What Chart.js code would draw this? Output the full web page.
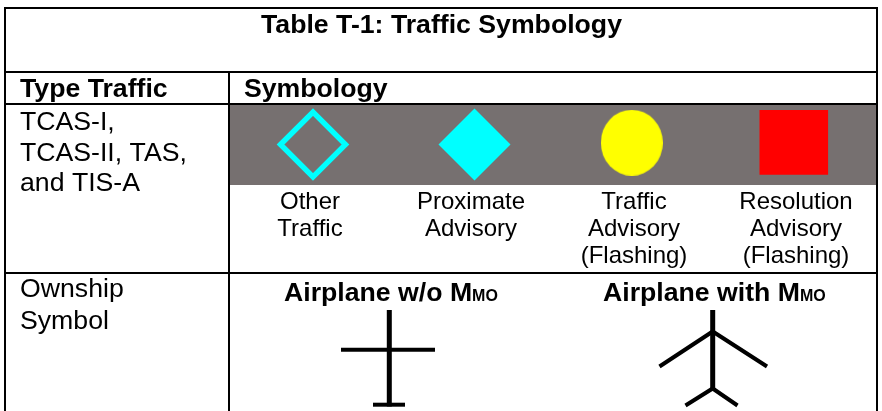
<!DOCTYPE html>
<html>
<head>
<meta charset="utf-8">
<style>
  html, body { margin: 0; padding: 0; background: #fff; }
  #wrap { width: 882px; height: 411px; }
</style>
<script src="https://cdn.jsdelivr.net/npm/chart.js@4/dist/chart.umd.js"></script>
</head>
<body>
<div id="wrap"><canvas id="symbologyChart" width="882" height="411"></canvas></div>
<script>
// table values, in picture units
const tableRuleX = [5, 877, null, 5, 877, null, 5, 877, null, 5, 877, null, 5, 5, null, 877, 877, null, 229, 229];
const tableRuleY = [8, 8, null, 72, 72, null, 104, 104, null, 273, 273, null, 7, 411, null, 7, 411, null, 72, 411];

const bandX = [230, 876];
const bandTop = [105, 105];
const bandBottom = 185;

const outlineDiamond = [{ x: 313, y: 144.5 }];
const solidDiamond = [{ x: 474.5, y: 144.5 }];
const trafficDot = [{ x: 631.8, y: 142.7 }];
const raSquareX = [759.3, 828.3];
const raSquareTop = [110, 110];
const raSquareBottom = 174.8;

const plainBodyX = [389.3, 389.3];
const plainBodyY = [310, 406.5];
const plainWingX = [341, 435];
const plainWingY = [349.8, 349.8];
const plainTailX = [373, 405];
const plainTailY = [404.7, 404.7];

const mmoBodyX = [712.7, 712.7];
const mmoBodyY = [310, 390];
const mmoWingX = [659.5, 712.7, 767];
const mmoWingY = [366.5, 331.5, 366.5];
const mmoTailX = [685.5, 712.7, 737.5];
const mmoTailY = [405.5, 388.5, 405.5];

const titleText = ['Table T-1: Traffic Symbology'];
const headLabels = ['Type Traffic', 'Symbology'];
const headX = [20, 244];
const typeLabels = ['TCAS-I,', 'TCAS-II, TAS,', 'and TIS-A', 'Ownship', 'Symbol'];
const typeY = [130, 161, 191, 297, 329];
const symbolLabels = [
    ['Other', 'Traffic'],
    ['Proximate', 'Advisory'],
    ['Traffic', 'Advisory', '(Flashing)'],
    ['Resolution', 'Advisory', '(Flashing)']
];
const symbolX = [310, 471, 634, 796];
const symbolLineY = [209, 236, 263];
const airplaneLabels = ['Airplane w/o ', 'Airplane with '];
const airplaneX = [284, 603];
const airplaneSub = ['M', 'MO'];

// ellipse marker, the yellow dot is a bit taller than wide
function ellipseMarker(w, h, color) {
    const c = document.createElement('canvas');
    c.width = w;
    c.height = h;
    const g = c.getContext('2d');
    g.fillStyle = color;
    g.beginPath();
    g.ellipse(w / 2, h / 2, w / 2, h / 2, 0, 0, Math.PI * 2);
    g.fill();
    return c;
}

function pairs(xs, ys) {
    return xs.map((x, i) => (x === null ? { x: null, y: null } : { x: x, y: ys[i] }));
}

function strokeSet(xs, ys, width) {
    return {
        data: pairs(xs, ys),
        showLine: true,
        borderColor: '#000',
        borderWidth: width,
        pointRadius: 0,
        fill: false,
        spanGaps: false
    };
}

function fillSet(xs, ys, bottom, color) {
    return {
        data: pairs(xs, ys),
        showLine: true,
        borderWidth: 0,
        borderColor: color,
        backgroundColor: color,
        pointRadius: 0,
        fill: { value: bottom }
    };
}

const textPlugin = {
    id: 'tableText',
    afterDatasetsDraw(chart) {
        const ctx = chart.ctx;
        const px = v => chart.scales.x.getPixelForValue(v);
        const py = v => chart.scales.y.getPixelForValue(v);
        const sans = '"Liberation Sans", Arial, sans-serif';
        ctx.save();
        ctx.fillStyle = '#000';
        ctx.textBaseline = 'alphabetic';

        ctx.font = 'bold 26.67px ' + sans;
        ctx.textAlign = 'center';
        ctx.fillText(titleText[0], px(441.5), py(33));

        ctx.textAlign = 'left';
        headLabels.forEach((t, i) => ctx.fillText(t, px(headX[i]), py(97)));

        ctx.font = '26.67px ' + sans;
        typeLabels.forEach((t, i) => ctx.fillText(t, px(20), py(typeY[i])));

        ctx.font = '24px ' + sans;
        ctx.textAlign = 'center';
        symbolLabels.forEach((lines, i) => {
            lines.forEach((t, j) => ctx.fillText(t, px(symbolX[i]), py(symbolLineY[j])));
        });

        ctx.textAlign = 'left';
        airplaneLabels.forEach((t, i) => {
            ctx.font = 'bold 26.67px ' + sans;
            const w1 = ctx.measureText(t + airplaneSub[0]).width;
            ctx.fillText(t + airplaneSub[0], px(airplaneX[i]), py(301));
            ctx.font = 'bold 16px ' + sans;
            ctx.fillText(airplaneSub[1], px(airplaneX[i]) + w1, py(301));
        });
        ctx.restore();
    }
};

const symbologyChart = new Chart(document.getElementById('symbologyChart'), {
    type: 'scatter',
    data: {
        datasets: [
            strokeSet(tableRuleX, tableRuleY, 2),
            {
                data: outlineDiamond,
                pointStyle: 'rectRot',
                pointRadius: 32.5,
                pointBorderWidth: 5.4,
                pointBorderColor: '#00ffff',
                pointBackgroundColor: 'rgba(0,0,0,0)'
            },
            {
                data: solidDiamond,
                pointStyle: 'rectRot',
                pointRadius: 36,
                pointBorderWidth: 0,
                pointBackgroundColor: '#00ffff'
            },
            {
                data: trafficDot,
                pointStyle: ellipseMarker(62, 66, '#ffff00')
            },
            strokeSet(plainBodyX, plainBodyY, 5),
            strokeSet(plainWingX, plainWingY, 4),
            strokeSet(plainTailX, plainTailY, 4),
            strokeSet(mmoBodyX, mmoBodyY, 5),
            strokeSet(mmoWingX, mmoWingY, 4),
            strokeSet(mmoTailX, mmoTailY, 4),
            fillSet(raSquareX, raSquareTop, raSquareBottom, '#ff0000'),
            fillSet(bandX, bandTop, bandBottom, '#767070')
        ]
    },
    options: {
        responsive: false,
        animation: false,
        events: [],
        layout: { padding: 0, autoPadding: false },
        plugins: {
            legend: { display: false },
            tooltip: { enabled: false },
            title: { display: false }
        },
        scales: {
            x: { type: 'linear', display: false, min: 0, max: 882 },
            y: { type: 'linear', display: false, min: 0, max: 411, reverse: true }
        }
    },
    plugins: [textPlugin]
});
</script>
</body>
</html>
